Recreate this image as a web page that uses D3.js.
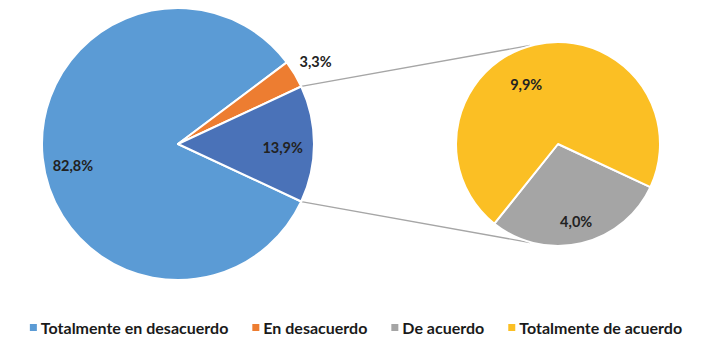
<!DOCTYPE html>
<html>
<head>
<meta charset="utf-8">
<script src="https://cdn.jsdelivr.net/npm/d3@7"></script>
<style>
  html, body { margin: 0; padding: 0; background: #fff; }
  svg { display: block; font-family: Lato, "Open Sans", sans-serif; }
</style>
</head>
<body>
<svg id="chart" width="720" height="359"></svg>
<script>
// Pie of pie: respuestas (%)
const categories = ["Totalmente en desacuerdo", "En desacuerdo", "De acuerdo", "Totalmente de acuerdo"];
const values = [82.8, 3.3, 4.0, 9.9];
const colors = ["#5b9bd5", "#ed7d31", "#a5a5a5", "#fbbf24"];
const otherColor = "#4a72b8";
// the last two categories are split out into the second pie
const splitFrom = 2;

(function () {
  const svg = d3.select("#chart");
  const fmt = v => d3.format(".1f")(v).replace(".", ",") + "%";
  const rad = d => d * Math.PI / 180;

  // Geometry
  const c1 = { x: 178, y: 144, r: 136 };
  const c2 = { x: 558, y: 144, r: 102 };

  const mainData = categories.slice(0, splitFrom).map((c, i) => ({ name: c, value: values[i], color: colors[i] }));
  const otherTotal = d3.sum(values.slice(splitFrom));
  mainData.push({ name: "Otros", value: otherTotal, color: otherColor });
  const subData = categories.slice(splitFrom).map((c, i) => ({ name: c, value: values[i + splitFrom], color: colors[i + splitFrom] }));

  const total = d3.sum(values);
  const otherAngle = otherTotal / total * 2 * Math.PI;
  // "Otros" slice centred on the right side (pi/2)
  const mainEnd = Math.PI / 2 + otherAngle / 2;
  const mainStart = mainEnd - 2 * Math.PI;

  const pieMain = d3.pie().sort(null).value(d => d.value)
    .startAngle(mainStart).endAngle(mainEnd);
  const pieSub = d3.pie().sort(null).value(d => d.value)
    .startAngle(mainEnd).endAngle(mainEnd + 2 * Math.PI);

  const arcMain = d3.arc().innerRadius(0).outerRadius(c1.r);
  const arcSub = d3.arc().innerRadius(0).outerRadius(c2.r);

  // Connector lines (tangent from the edge points of "Otros" to second pie)
  const edgeTop = mainEnd - otherAngle;
  const edgeBot = mainEnd;
  [[edgeTop, -1], [edgeBot, 1]].forEach(([a, side]) => {
    const px = c1.x + c1.r * Math.sin(a), py = c1.y - c1.r * Math.cos(a);
    const dx = c2.x - px, dy = c2.y - py;
    const d = Math.hypot(dx, dy);
    const base = Math.atan2(dy, dx);
    const off = Math.asin(c2.r / d);
    const dir = base + side * off;
    const len = Math.sqrt(d * d - c2.r * c2.r) - 10;
    svg.append("line")
      .attr("x1", px).attr("y1", py)
      .attr("x2", px + len * Math.cos(dir)).attr("y2", py + len * Math.sin(dir))
      .attr("stroke", "#a6a6a6").attr("stroke-width", 1.3);
  });

  const gMain = svg.append("g").attr("transform", `translate(${c1.x},${c1.y})`);
  const gSub = svg.append("g").attr("transform", `translate(${c2.x},${c2.y})`);

  const mainArcs = pieMain(mainData);
  const subArcs = pieSub(subData);

  gMain.selectAll("path").data(mainArcs).join("path")
    .attr("d", arcMain).attr("fill", d => d.data.color)
    .attr("stroke", "#fff").attr("stroke-width", 2).attr("stroke-linejoin", "round");
  gSub.selectAll("path").data(subArcs).join("path")
    .attr("d", arcSub).attr("fill", d => d.data.color)
    .attr("stroke", "#fff").attr("stroke-width", 2).attr("stroke-linejoin", "round");

  // Label placement: radius factor and angle nudge (deg)
  const labelLayout = {
    "Totalmente en desacuerdo": { k: 0.79, nudge: -6 },
    "En desacuerdo": { k: 1.18, nudge: 0 },
    "Otros": { k: 0.77, nudge: 2 },
    "De acuerdo": { k: 0.78, nudge: 0 },
    "Totalmente de acuerdo": { k: 0.66, nudge: -15 }
  };
  function addLabels(g, arcs, r) {
    g.selectAll("text").data(arcs).join("text")
      .attr("x", d => { const L = labelLayout[d.data.name]; return L.k * r * Math.sin((d.startAngle + d.endAngle) / 2 + rad(L.nudge)); })
      .attr("y", d => { const L = labelLayout[d.data.name]; return -L.k * r * Math.cos((d.startAngle + d.endAngle) / 2 + rad(L.nudge)); })
      .attr("dy", "0.35em")
      .attr("text-anchor", "middle")
      .style("font-size", "14.5px").style("font-weight", 700)
      .attr("fill", "#222")
      .text(d => fmt(d.data.value));
  }
  addLabels(gMain, mainArcs, c1.r);
  addLabels(gSub, subArcs, c2.r);

  // Legend
  const leg = svg.append("g").attr("class", "legend");
  const items = leg.selectAll("g").data(categories).join("g");
  items.append("rect").attr("width", 7).attr("height", 7).attr("y", -4)
    .attr("fill", (d, i) => colors[i]);
  items.append("text").attr("x", 11).attr("dy", "0.35em")
    .style("font-size", "16px").style("font-weight", 700).attr("fill", "#1a1a1a")
    .text(d => d);
  let x = 0;
  items.each(function () {
    const w = this.getBBox().width;
    d3.select(this).attr("transform", `translate(${x},0)`);
    x += w + 24;
  });
  const totalW = x - 24;
  leg.attr("transform", `translate(${356 - totalW / 2},328)`);
})();
</script>
</body>
</html>
